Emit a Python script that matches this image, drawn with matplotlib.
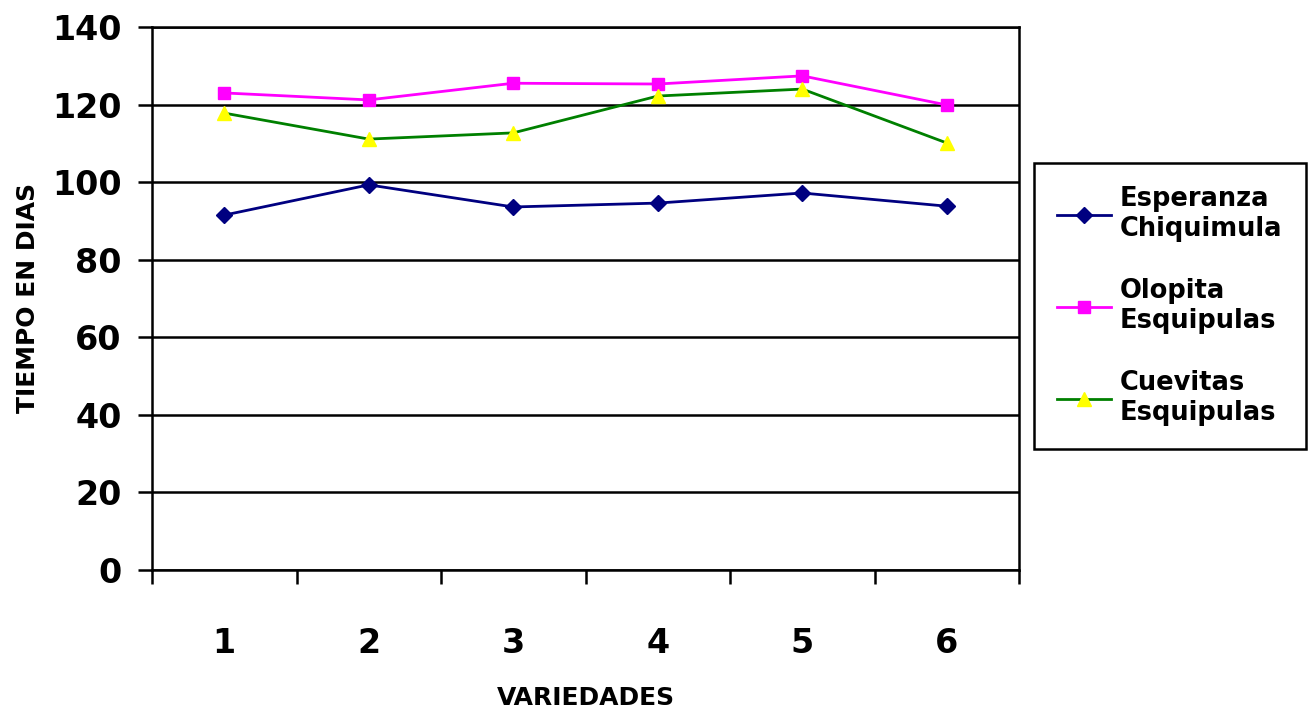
import numpy as np
import matplotlib.pyplot as plt

variedades = [1, 2, 3, 4, 5, 6]
esperanza = [91.5, 99.3, 93.6, 94.6, 97.2, 93.8]
olopita = [123.0, 121.2, 125.5, 125.3, 127.4, 119.9]
cuevitas = [117.8, 111.1, 112.7, 122.2, 124.0, 110.1]

labels = ['Esperanza\nChiquimula', 'Olopita\nEsquipulas', 'Cuevitas\nEsquipulas']

plt.rcParams['font.family'] = 'DejaVu Sans'
plt.rcParams['font.weight'] = 'bold'

fig = plt.figure(figsize=(13.08, 7.13), dpi=100)
ax = fig.add_axes([152/1308, 1 - 570/713, (1019 - 152)/1308, (570 - 27)/713])

ax.plot(variedades, esperanza, '-', color='#000080', lw=2.0,
        marker='D', ms=8, mfc='#000080', mec='#000080', label=labels[0], zorder=3)
ax.plot(variedades, olopita, '-', color='#FF00FF', lw=2.0,
        marker='s', ms=9, mfc='#FF00FF', mec='#FF00FF', label=labels[1], zorder=3)
ax.plot(variedades, cuevitas, '-', color='#008000', lw=2.0,
        marker='^', ms=10, mfc='#FFFF00', mec='#FFFF00', label=labels[2], zorder=3)

ax.set_xlim(0.5, 6.5)
ax.set_ylim(0, 140)
ax.set_yticks(np.arange(0, 141, 20))
ax.set_xticks(variedades)
ax.set_xticks(np.arange(0.5, 6.6, 1), minor=True)
ax.grid(axis='y', color='black', lw=1.8)
ax.set_axisbelow(True)

ax.tick_params(axis='y', direction='out', length=10, width=1.8, pad=12, labelsize=24)
ax.tick_params(axis='x', which='major', length=0, pad=41, labelsize=24)
ax.tick_params(axis='x', which='minor', direction='out', length=10, width=1.8)

for sp in ax.spines.values():
    sp.set_linewidth(1.8)

fig.text(28/1308, 1 - 298/713, 'TIEMPO EN DIAS', rotation=90, fontsize=18,
         fontweight='bold', ha='center', va='center')
fig.text(586/1308, 1 - 698/713, 'VARIEDADES', fontsize=18,
         fontweight='bold', ha='center', va='center')

leg = ax.legend(loc='upper left', bbox_to_anchor=(1034/1308, 1 - 163/713),
                bbox_transform=fig.transFigure, borderaxespad=0, fancybox=False,
                edgecolor='black', framealpha=1, fontsize=18.5, labelspacing=1.4,
                handlelength=2.1, handletextpad=0.35, borderpad=0.9)
leg.get_frame().set_linewidth(1.8)

fig.savefig('out.png', dpi=100)
